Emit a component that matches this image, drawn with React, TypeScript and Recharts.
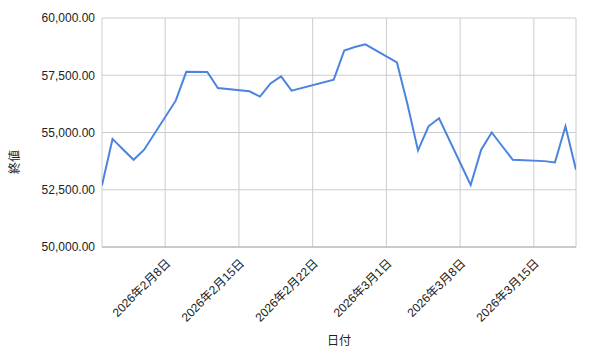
import React from 'react';
import { LineChart, Line, XAxis, YAxis, CartesianGrid } from 'recharts';

const dates = [
  '2026-02-02', '2026-02-03', '2026-02-04', '2026-02-05', '2026-02-06',
  '2026-02-09', '2026-02-10', '2026-02-12', '2026-02-13',
  '2026-02-16', '2026-02-17', '2026-02-18', '2026-02-19', '2026-02-20',
  '2026-02-24', '2026-02-25', '2026-02-26', '2026-02-27',
  '2026-03-02', '2026-03-03', '2026-03-04', '2026-03-05', '2026-03-06',
  '2026-03-09', '2026-03-10', '2026-03-11', '2026-03-12', '2026-03-13',
  '2026-03-16', '2026-03-17', '2026-03-18', '2026-03-19',
];
const closes = [
  52690, 54720, 54260, 53810, 54250,
  56390, 57650, 57640, 56940,
  56800, 56570, 57140, 57450, 56830,
  57310, 58580, 58730, 58850,
  58060, 56230, 54220, 55270, 55620,
  52710, 54250, 55000, 54400, 53810,
  53750, 53690, 55270, 53370,
];
const xTickDates = ['2026-02-08', '2026-02-15', '2026-02-22', '2026-03-01', '2026-03-08', '2026-03-15'];
const xDomainDates = ['2026-02-02', '2026-03-19'];
const yTicks = [50000, 52500, 55000, 57500, 60000];

const toTs = (s: string) => {
  const [y, m, d] = s.split('-').map(Number);
  return Date.UTC(y, m - 1, d);
};

const data = dates.map((d, i) => ({ t: toTs(d), v: closes[i] }));

const fmtDate = (ts: number) => {
  const d = new Date(ts);
  return `${d.getUTCFullYear()}年${d.getUTCMonth() + 1}月${d.getUTCDate()}日`;
};
const fmtNum = (v: number) =>
  v.toLocaleString('en-US', { minimumFractionDigits: 2, maximumFractionDigits: 2 });

const FONT = '"Liberation Sans", Arial, "Noto Sans CJK JP", sans-serif';

const XTick = (props: any) => {
  const { x, y, payload } = props;
  const tx = x + 6;
  const ty = y + 9;
  return (
    <text
      x={tx}
      y={ty}
      transform={`rotate(-45 ${tx} ${ty})`}
      textAnchor="end"
      fontSize={12}
      fill="#222"
      fontFamily={FONT}
    >
      {fmtDate(payload.value)}
    </text>
  );
};

export default function App() {
  return (
    <div style={{ position: 'absolute', left: 0, top: 0, background: '#fff' }}>
      <LineChart
        width={589}
        height={354}
        data={data}
        margin={{ top: 18, right: 13, left: 0, bottom: 0 }}
      >
        <CartesianGrid stroke="#cccccc" strokeWidth={1} />
        <XAxis
          dataKey="t"
          type="number"
          scale="time"
          domain={[toTs(xDomainDates[0]), toTs(xDomainDates[1])]}
          ticks={xTickDates.map(toTs)}
          tick={<XTick />}
          tickLine={false}
          axisLine={{ stroke: '#b0b0b0' }}
          height={107}
          interval={0}
          allowDataOverflow
        />
        <YAxis
          type="number"
          domain={[50000, 60000]}
          ticks={yTicks}
          tickFormatter={fmtNum}
          tickLine={false}
          axisLine={false}
          width={102}
          tick={{ fontSize: 12, fill: '#222', fontFamily: FONT }}
          tickMargin={1}
        />
        <Line
          type="linear"
          dataKey="v"
          stroke="#4a84e0"
          strokeWidth={2}
          dot={false}
          isAnimationActive={false}
        />
        <text x={339} y={345} textAnchor="middle" fontSize={12} fill="#222" fontFamily={FONT}>
          日付
        </text>
        <text
          x={19}
          y={162}
          transform="rotate(-90 19 162)"
          textAnchor="middle"
          fontSize={12}
          fill="#222"
          fontFamily={FONT}
        >
          終値
        </text>
      </LineChart>
    </div>
  );
}
